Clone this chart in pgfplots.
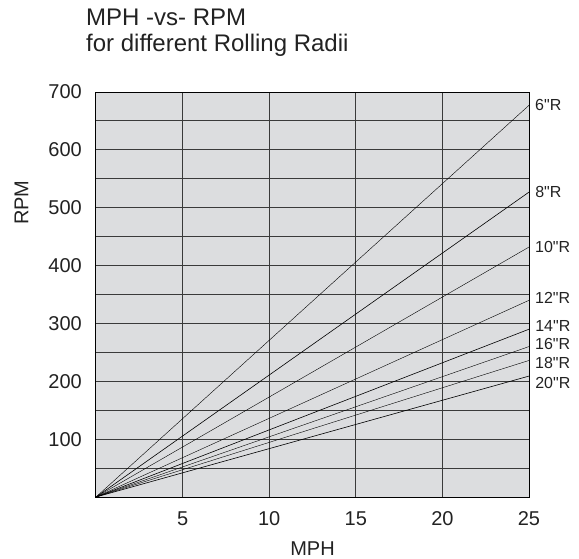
\documentclass[border=0pt]{standalone}
\usepackage{fontspec}
\setmainfont{Liberation Sans}[Ligatures=TeXOff]
\usepackage{pgfplots}
\pgfplotsset{compat=1.18}
\definecolor{bg}{HTML}{DCDDDF}
\definecolor{gridc}{HTML}{3A3A3A}
\definecolor{txt}{HTML}{222222}
\tikzset{lbl/.style={pos=1, anchor=west, xshift=6pt, inner sep=0pt, font=\fontsize{16}{19}\selectfont, text=txt}}
\begin{document}
\begin{tikzpicture}
\path[use as bounding box] (-96pt,-61pt) rectangle (483pt,497pt);
\begin{axis}[
  at={(0pt,0pt)}, anchor=south west,
  scale only axis, width=433pt, height=405pt,
  xmin=0, xmax=25, ymin=0, ymax=700,
  xtick={5,10,15,20,25},
  ytick={100,200,...,700},
  minor ytick={50,150,...,650},
  grid=both,
  major grid style={gridc, line width=1pt},
  minor grid style={gridc, line width=1pt},
  major tick length=0pt, minor tick length=0pt,
  axis line style={black, line width=1pt},
  axis background/.style={fill=bg},
  /pgf/number format/assume math mode=true,
  tick label style={font=\fontsize{20}{24}\selectfont, text=txt},
  xticklabel style={anchor=base, yshift=-28pt, inner sep=0pt},
  yticklabel style={anchor=east, xshift=-14pt, inner sep=0pt},
  xlabel={MPH}, ylabel={RPM},
  label style={font=\fontsize{20}{24}\selectfont, text=txt},
  xlabel style={at={(axis description cs:0.5,0)}, anchor=base, yshift=-58pt, inner sep=0pt},
  ylabel style={at={(axis description cs:-0.172,0.727)}, anchor=center, inner sep=0pt},
  cycle list={{black, line width=0.6pt, mark=none}},
  clip=false,
]
\addplot coordinates {(0,0) (25,677)} node[lbl] {6"R};
\addplot coordinates {(0,0) (25,527)} node[lbl] {8"R};
\addplot coordinates {(0,0) (25,432)} node[lbl] {10"R};
\addplot coordinates {(0,0) (25,340)} node[lbl, yshift=2pt] {12"R};
\addplot coordinates {(0,0) (25,290)} node[lbl, yshift=3pt] {14"R};
\addplot coordinates {(0,0) (25,260)} node[lbl, yshift=3pt] {16"R};
\addplot coordinates {(0,0) (25,236)} node[lbl, yshift=-3pt] {18"R};
\addplot coordinates {(0,0) (25,209)} node[lbl, yshift=-7pt] {20"R};
\end{axis}
\node[anchor=base west, inner sep=0pt, font=\fontsize{24}{29}\selectfont, text=txt] at (-10pt,471pt) {MPH -vs- RPM};
\node[anchor=base west, inner sep=0pt, font=\fontsize{24}{29}\selectfont, text=txt] at (-10pt,445pt) {for different Rolling Radii};
\end{tikzpicture}
\end{document}
